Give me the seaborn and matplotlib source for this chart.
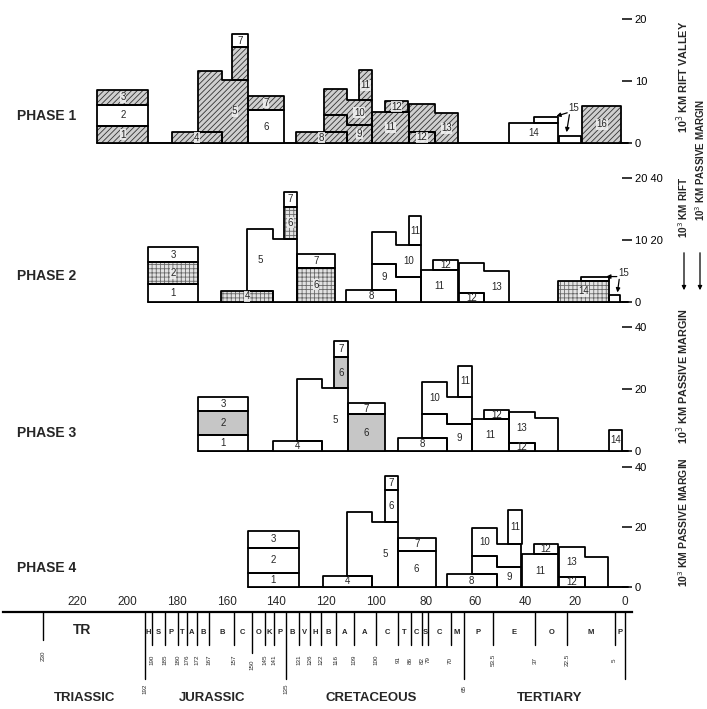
"""Phases of passive margin / rift valley length through time"""
import matplotlib
matplotlib.use("Agg")
import matplotlib.pyplot as plt
import seaborn as sns

# ages in Ma (old -> young), lengths in 10^3 km
# unit: (label, pattern, [(age_old, age_young, bottom, top), ...])
# pattern: w = white, h = hatched, s = stippled, g = grey
PHASE1 = [
    ("1", "h", [(212, 191.5, 0, 2.7)]),
    ("2", "w", [(212, 191.5, 2.7, 6.2)]),
    ("3", "h", [(212, 191.5, 6.2, 8.5)]),
    ("4", "h", [(182, 162, 0, 1.7)]),
    ("5", "h", [(171.7, 162, 1.7, 11.6), (162, 151.6, 0, 10.2)]),
    ("", "h", [(157.9, 151.6, 10.2, 15.5)]),
    ("7", "w", [(157.9, 151.6, 15.5, 17.5)]),
    ("6", "w", [(151.6, 137, 0, 5.3)]),
    ("7", "h", [(151.6, 137, 5.3, 7.6)]),
    ("8", "h", [(132, 111.8, 0, 1.7)]),
    ("9", "h", [(121, 111.8, 1.7, 4.5), (111.8, 101.6, 0, 2.9)]),
    ("10", "h", [(121, 111.8, 4.5, 8.7), (111.8, 101.6, 2.9, 6.9)]),
    ("11", "h", [(107, 101.6, 6.9, 11.7)]),
    ("11", "h", [(101.6, 86.5, 0, 5.0)]),
    ("12", "h", [(96.5, 86.9, 5.0, 6.7)]),
    ("12", "h", [(86.5, 76.4, 0, 1.8)]),
    ("13", "h", [(86.5, 76.4, 1.8, 6.3), (76.4, 66.8, 0, 4.8)]),
    ("14", "w", [(46.3, 26.8, 0, 3.2)]),
    ("", "w", [(36.5, 26.8, 3.2, 4.2)]),
    ("", "w", [(26.4, 17.4, 0, 1.2)]),
    ("16", "h", [(17, 1.3, 0, 6.0)]),
]

PHASE2 = [
    ("1", "w", [(191.7, 171.4, 0, 2.9)]),
    ("2", "s", [(191.7, 171.4, 2.9, 6.4)]),
    ("3", "w", [(191.7, 171.4, 6.4, 8.8)]),
    ("4", "s", [(162.2, 141.5, 0, 1.8)]),
    ("5", "w", [(151.9, 141.5, 1.8, 11.7), (141.5, 131.8, 0, 10.2)]),
    ("6", "s", [(137, 131.8, 10.2, 15.4)]),
    ("7", "w", [(137, 131.8, 15.4, 17.7)]),
    ("6", "s", [(131.8, 116.3, 0, 5.5)]),
    ("7", "w", [(131.8, 116.3, 5.5, 7.7)]),
    ("8", "w", [(112, 91.8, 0, 1.9)]),
    ("9", "w", [(101.6, 91.8, 1.9, 6.1), (91.8, 81.8, 0, 4.1)]),
    ("10", "w", [(101.6, 91.8, 6.1, 11.3), (91.8, 81.8, 4.1, 9.2)]),
    ("11", "w", [(86.6, 81.8, 9.2, 13.8)]),
    ("11", "w", [(81.8, 67, 0, 5.2)]),
    ("12", "w", [(77.2, 67, 5.2, 6.8)]),
    ("12", "w", [(66.6, 56.7, 0, 1.4)]),
    ("13", "w", [(66.6, 56.7, 1.4, 6.3), (56.7, 46.3, 0, 5.0)]),
    ("14", "s", [(26.8, 6.3, 0, 3.4)]),
    ("", "w", [(17.4, 6.3, 3.4, 4.1)]),
    ("", "w", [(6.3, 2, 0, 1.1)]),
]

PHASE3 = [
    ("1", "w", [(171.4, 151.5, 0, 5.2)]),
    ("2", "g", [(171.4, 151.5, 5.2, 13.0)]),
    ("3", "w", [(171.4, 151.5, 13.0, 17.3)]),
    ("4", "w", [(141.5, 121.6, 0, 3.3)]),
    ("5", "w", [(131.7, 121.6, 3.3, 23.2), (121.6, 111.3, 0, 20.2)]),
    ("6", "g", [(116.7, 111.3, 20.2, 30.4)]),
    ("7", "w", [(116.7, 111.3, 30.4, 35.5)]),
    ("6", "g", [(111.3, 96.5, 0, 11.9)]),
    ("7", "w", [(111.3, 96.5, 11.9, 15.4)]),
    ("8", "w", [(91.2, 71.5, 0, 4.3)]),
    ("9", "w", [(81.5, 71.5, 4.3, 11.9), (71.5, 61.3, 0, 8.6)]),
    ("10", "w", [(81.5, 71.5, 11.9, 22.2), (71.5, 61.3, 8.6, 17.5)]),
    ("11", "w", [(67, 61.3, 17.5, 27.5)]),
    ("11", "w", [(61.3, 46.5, 0, 10.2)]),
    ("12", "w", [(56.7, 46.5, 10.2, 13.2)]),
    ("12", "w", [(46.3, 36.2, 0, 2.5)]),
    ("13", "w", [(46.3, 36.2, 2.5, 12.5), (36.2, 26.8, 0, 10.5)]),
    ("14", "w", [(6.3, 0.9, 0, 6.8)]),
]

PHASE4 = [
    ("1", "w", [(151.5, 131.1, 0, 4.6)]),
    ("2", "w", [(151.5, 131.1, 4.6, 13.1)]),
    ("3", "w", [(151.5, 131.1, 13.1, 18.8)]),
    ("4", "w", [(121.4, 101.6, 0, 3.8)]),
    ("5", "w", [(111.7, 101.6, 3.8, 24.9), (101.6, 91.2, 0, 21.8)]),
    ("6", "w", [(96.5, 91.2, 21.8, 32.3)]),
    ("7", "w", [(96.5, 91.2, 32.3, 37.0)]),
    ("6", "w", [(91.2, 76, 0, 12.1)]),
    ("7", "w", [(91.2, 76, 12.1, 16.4)]),
    ("8", "w", [(71.5, 51.4, 0, 4.2)]),
    ("9", "w", [(61.3, 51.4, 4.2, 10.3), (51.4, 41.6, 0, 6.8)]),
    ("10", "w", [(61.3, 51.4, 10.3, 19.6), (51.4, 41.6, 6.8, 14.3)]),
    ("11", "w", [(46.9, 41.1, 14.3, 25.7)]),
    ("11", "w", [(41.1, 26.8, 0, 10.9)]),
    ("12", "w", [(36.5, 26.8, 10.9, 14.3)]),
    ("12", "w", [(26.4, 16.1, 0, 3.4)]),
    ("13", "w", [(26.4, 16.1, 3.4, 13.2), (16.1, 6.7, 0, 10.1)]),
]

PHASE_NAMES = ["PHASE 1", "PHASE 2", "PHASE 3", "PHASE 4"]
PHASE_TICKS = [[0, 10, 20], [0, 10, 20], [0, 20, 40], [0, 20, 40]]
PHASE_TICK_LABELS = [["0", "10", "20"], ["0", "10 20", "20 40"],
                     ["0", "20", "40"], ["0", "20", "40"]]

# "15" pointers: (label age, label value, [(age, value) targets])
POINTER15 = [
    (20.5, 5.6, [(28.5, 4.2), (23.5, 1.3)]),
    (0.5, 4.7, [(8.5, 4.1), (3.0, 1.1)]),
]

# geologic time scale
AGE_TICKS = [220, 200, 180, 160, 140, 120, 100, 80, 60, 40, 20, 0]
BOUNDARIES = [234, 193, 190, 185, 179.5, 176, 172, 167, 157, 150, 144.5, 141,
              136, 131, 126.5, 122, 116, 109, 100, 91, 86, 81.5, 79, 70, 64.7,
              53, 36, 23, 4, 0]
BOUNDARY_LABELS = ["230", "192", "190", "185", "180", "176", "172", "167",
                   "157", "150", "145", "141", "135", "131", "126", "122",
                   "116", "109", "100", "91", "86", "82", "79", "70", "65",
                   "53.5", "37", "22.5", "5", ""]
LONG_BOUNDARIES = [193, 136, 64.7, 0]
STAGES = ["H", "S", "P", "T", "A", "B", "B", "C", "O", "K", "P", "B", "V",
          "H", "B", "A", "A", "C", "T", "C", "S", "C", "M", "P", "E", "O",
          "M", "P"]
PERIODS = ["TRIASSIC", "JURASSIC", "CRETACEOUS", "TERTIARY"]
PERIOD_CENTRES = [217, 166, 102, 30]

sns.set_theme(style="white")
plt.rcParams["font.family"] = ["Liberation Sans", "DejaVu Sans"]
plt.rcParams["hatch.linewidth"] = 0.6

W, H = 707, 709
fig = plt.figure(figsize=(W / 100, H / 100), dpi=100)
fig.patch.set_facecolor("white")

XLIM = (250, -3)
AX_LEFT, AX_RIGHT = 3, 632

FILLS = {
    "w": dict(facecolor="white", hatch=None, hc="white"),
    "h": dict(facecolor="#cfcfcf", hatch="//////", hc="#333333"),
    "s": dict(facecolor="#e2e2e2", hatch="++++", hc="#6a6a6a"),
    "g": dict(facecolor="#c6c6c6", hatch=None, hc="#c6c6c6"),
}


def px_rect(top, bottom):
    return [AX_LEFT / W, 1 - bottom / H, (AX_RIGHT - AX_LEFT) / W, (bottom - top) / H]


def draw_unit(ax, label, pattern, segs):
    xs = [s[0] for s in segs] + [segs[-1][1]]
    lo = [s[2] for s in segs] + [segs[-1][2]]
    hi = [s[3] for s in segs] + [segs[-1][3]]
    st = FILLS[pattern]
    ax.fill_between(xs, lo, hi, step="post", facecolor=st["facecolor"],
                    hatch=st["hatch"], edgecolor=st["hc"], linewidth=0, zorder=2)
    ax.fill_between(xs, lo, hi, step="post", facecolor="none",
                    edgecolor="black", linewidth=1.3, zorder=3)
    if label:
        big = max(segs, key=lambda s: (s[0] - s[1]) * (s[3] - s[2]))
        bbox = None
        if pattern in ("h", "s"):
            bbox = dict(boxstyle="square,pad=0.05", facecolor="#f2f2f2",
                        edgecolor="none", alpha=0.85)
        ax.text((big[0] + big[1]) / 2, (big[2] + big[3]) / 2, label,
                ha="center", va="center", fontsize=7, zorder=4, bbox=bbox)


# panel geometry: (baseline px, px per unit, ymin, ymax)
GEOM = [(143, 6.2, -1, 22), (302, 6.2, -1, 22), (451, 3.1, -2, 42), (587, 3.0, -2, 42)]
PHASES = [PHASE1, PHASE2, PHASE3, PHASE4]
NAME_Y = [116, 276, 433, 568]

for i, (units, (base, ppu, ymin, ymax)) in enumerate(zip(PHASES, GEOM)):
    ax = fig.add_axes(px_rect(base - ymax * ppu, base - ymin * ppu))
    ax.patch.set_alpha(0)
    ax.set_xlim(*XLIM)
    ax.set_ylim(ymin, ymax)
    for label, pattern, segs in units:
        draw_unit(ax, label, pattern, segs)
    start = max(s[0] for _, _, segs in units for s in segs)
    ax.plot([start, -1.5], [0, 0], color="black", lw=1.4, zorder=1)
    ax.set_xticks([])
    ax.yaxis.tick_right()
    ax.set_yticks(PHASE_TICKS[i])
    ax.set_yticklabels(PHASE_TICK_LABELS[i])
    ax.tick_params(axis="y", direction="in", length=7, width=1.1, pad=2,
                   labelsize=8, colors="black", right=True)
    for sp in ax.spines.values():
        sp.set_visible(False)
    fig.text(17 / W, 1 - NAME_Y[i] / H, PHASE_NAMES[i], fontsize=10,
             fontweight="bold", va="center", ha="left")
    if i < 2:
        la, lv, targets = POINTER15[i]
        ax.text(la, lv, "15", fontsize=7, ha="center", va="center")
        for ta, tv in targets:
            ax.annotate("", xy=(ta, tv), xytext=(la + 1.5, lv - 0.6),
                        arrowprops=dict(arrowstyle="-|>", color="black",
                                        lw=0.9, mutation_scale=6))

# right-hand unit labels
RIGHT_LABELS = [
    (683, 77, "10$^3$ KM RIFT VALLEY", 7.8),
    (700, 160, "10$^3$ KM PASSIVE MARGIN", 7.0),
    (683, 207, "10$^3$ KM RIFT", 7.2),
    (683, 376, "10$^3$ KM PASSIVE MARGIN", 7.8),
    (683, 522, "10$^3$ KM PASSIVE MARGIN", 7.5),
]
for x, y, txt, fs in RIGHT_LABELS:
    fig.text(x / W, 1 - y / H, txt, rotation=90, fontsize=fs, fontweight="bold",
             ha="center", va="center")
for x in (684, 700):
    fig.add_artist(matplotlib.patches.FancyArrowPatch(
        (x / W, 1 - 250 / H), (x / W, 1 - 293 / H), transform=fig.transFigure,
        arrowstyle="-|>", mutation_scale=6, color="black", lw=0.9))

# time scale
tax = fig.add_axes([AX_LEFT / W, 0, (AX_RIGHT - AX_LEFT) / W, 111 / H])
tax.patch.set_alpha(0)
tax.set_xlim(*XLIM)
tax.set_ylim(97, -14)
for sp in ("left", "right", "bottom"):
    tax.spines[sp].set_visible(False)
tax.spines["top"].set_position(("data", 0))
tax.spines["top"].set_linewidth(1.6)
tax.spines["top"].set_color("black")
tax.xaxis.set_ticks_position("top")
tax.set_xticks(AGE_TICKS)
tax.set_xticklabels([str(a) for a in AGE_TICKS])
tax.tick_params(axis="x", length=0, pad=3, labelsize=8.5)
tax.set_yticks([])

for age, lab in zip(BOUNDARIES, BOUNDARY_LABELS):
    if age in LONG_BOUNDARIES:
        depth, ny = 67, 77
    elif age == 150:
        depth, ny = 41, 53
    elif age == 234:
        depth, ny = 28, 44
    else:
        depth, ny = 33, 48
    tax.plot([age, age], [0, depth], color="black", lw=1.0)
    if lab:
        tax.text(age, ny, lab, rotation=90, fontsize=4.5, ha="center", va="center")

for a0, a1, s in zip(BOUNDARIES[1:-1], BOUNDARIES[2:], STAGES):
    tax.text((a0 + a1) / 2, 21, s, fontsize=5.5, fontweight="bold",
             ha="center", va="center")
tax.text(218, 18, "TR", fontsize=10, fontweight="bold", ha="center", va="center")
for name, c in zip(PERIODS, PERIOD_CENTRES):
    tax.text(c, 86, name, fontsize=9.5, fontweight="bold", ha="center", va="center")

fig.savefig("out.png", dpi=100, facecolor="white")
